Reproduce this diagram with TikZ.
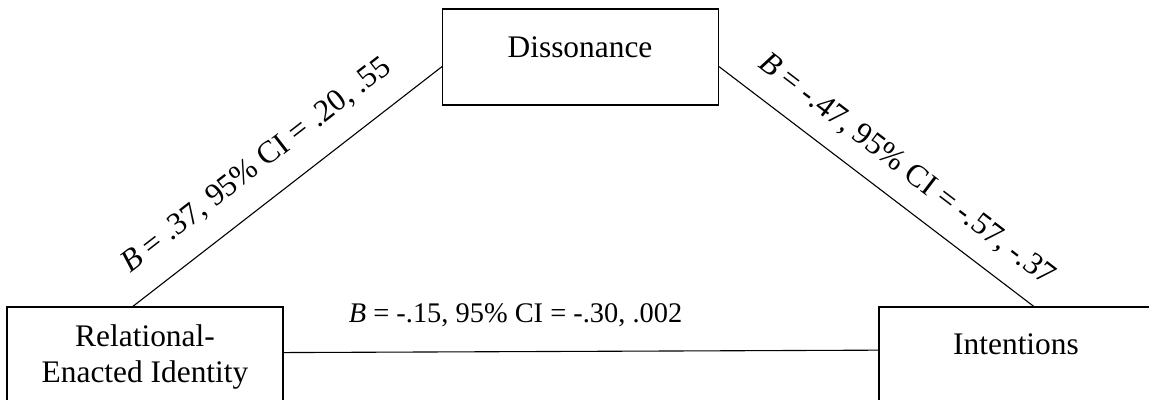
\documentclass[tikz,border=0pt]{standalone}
\usepackage{fontspec}
\setmainfont{Liberation Serif}
\usetikzlibrary{positioning}
\definecolor{ink}{HTML}{000000}
\tikzset{
  var box/.style={draw=ink,line width=.6pt,minimum width=138pt,minimum height=48pt,inner sep=0pt},
  var text/.style={font=\fontsize{15.7}{18}\selectfont,text=ink,align=center,inner sep=0pt},
  path link/.style={draw=ink,line width=.55pt},
  coef text/.style={font=\fontsize{15.7}{19}\selectfont,text=ink,inner sep=0pt},
  direct text/.style={font=\fontsize{14.2}{17}\selectfont,text=ink,inner sep=0pt}
}
\begin{document}
\begin{tikzpicture}[x=.5pt,y=.5pt]
  \useasboundingbox (0,0) rectangle (1149,400);
  \fill[white] (0,0) rectangle (1149,400);

  % Three variables.
  \node[var box] (rel) at (145,45) {};
  \node[var box] (diss) at (580.5,343) {};
  \node[var box] (int) at (1017,45) {};

  \node[var text] (reltext) at (145,42.6) {Relational-\\Enacted Identity};
  \node[var text,anchor=base] (disstext) at (580,342) {Dissonance};
  \node[var text,anchor=base] (inttext) at (1016,45) {Intentions};

  % Indirect paths.
  \draw[path link] (rel.104) -- node[coef text,sloped,pos=.47,above=11pt] (coefa)
    {\textit{B} = .37, 95\% CI = .20, .55} (diss.184.6);
  \draw[path link] (diss.356.3) -- node[coef text,sloped,pos=.535,above=9pt] (coefb)
    {\textit{B} = -.47, 95\% CI = -.57, -.37} (int.71.6);

  % Direct path.
  \draw[path link] (rel.1.25) -- node[direct text,pos=.39,above=12pt] (coefc)
    {\textit{B} = -.15, 95\% CI = -.30, .002} (int.178.75);
\end{tikzpicture}
\end{document}
